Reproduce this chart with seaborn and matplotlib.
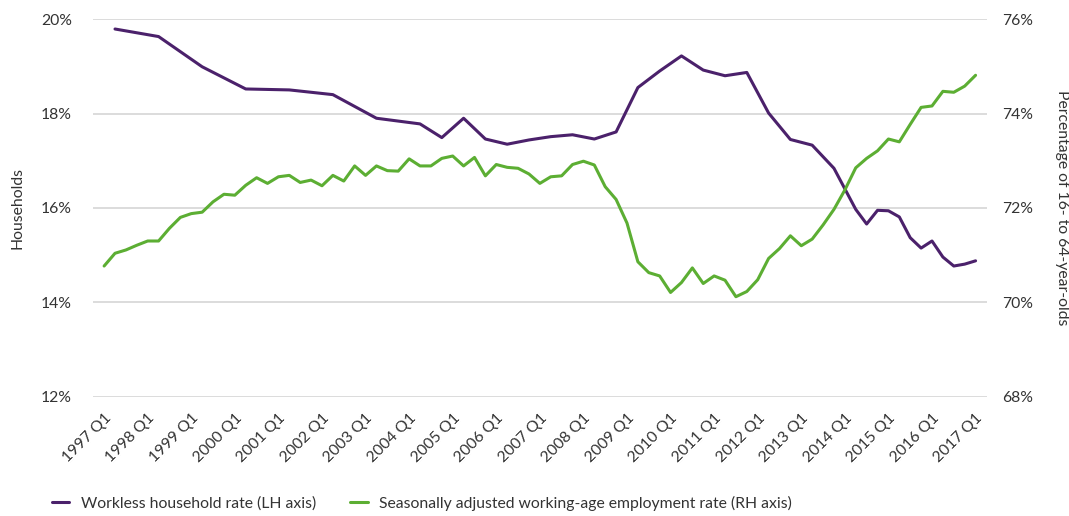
import matplotlib
matplotlib.use("Agg")
import matplotlib.pyplot as plt
import seaborn as sns
import pandas as pd
from matplotlib.ticker import FuncFormatter

# quarters 1997 Q1 .. 2017 Q1
quarters = [f"{1997 + i // 4} Q{i % 4 + 1}" for i in range(81)]
tick_labels = [f"{y} Q1" for y in range(1997, 2018)]

# workless household rate (LH axis), annual -> half-yearly -> quarterly
workless_quarters = [
    "1997 Q2", "1998 Q2", "1999 Q2", "2000 Q2", "2001 Q2", "2002 Q2", "2003 Q2",
    "2004 Q2", "2004 Q4", "2005 Q2", "2005 Q4", "2006 Q2", "2006 Q4", "2007 Q2",
    "2007 Q4", "2008 Q2", "2008 Q4", "2009 Q2", "2009 Q4", "2010 Q2", "2010 Q4",
    "2011 Q2", "2011 Q4", "2012 Q2", "2012 Q4", "2013 Q2", "2013 Q4", "2014 Q2",
    "2014 Q3", "2014 Q4", "2015 Q1", "2015 Q2", "2015 Q3", "2015 Q4", "2016 Q1",
    "2016 Q2", "2016 Q3", "2016 Q4", "2017 Q1",
]
workless_rate = [
    19.79, 19.63, 18.99, 18.52, 18.50, 18.40, 17.90,
    17.78, 17.49, 17.90, 17.46, 17.35, 17.44, 17.51,
    17.55, 17.46, 17.61, 18.55, 18.90, 19.22, 18.92,
    18.80, 18.87, 18.01, 17.45, 17.33, 16.84, 15.97,
    15.66, 15.95, 15.94, 15.81, 15.37, 15.15, 15.30,
    14.96, 14.77, 14.81, 14.88,
]

# seasonally adjusted working-age employment rate (RH axis), quarterly
employment_rate = [
    70.77, 71.04, 71.11, 71.21, 71.30, 71.30, 71.57, 71.80, 71.88, 71.91,
    72.13, 72.29, 72.27, 72.48, 72.64, 72.52, 72.66, 72.69, 72.54, 72.59,
    72.47, 72.69, 72.57, 72.89, 72.69, 72.89, 72.79, 72.78, 73.04, 72.89,
    72.89, 73.05, 73.10, 72.89, 73.07, 72.68, 72.92, 72.86, 72.84, 72.72,
    72.52, 72.66, 72.68, 72.92, 72.99, 72.91, 72.45, 72.18, 71.68, 70.86,
    70.63, 70.56, 70.21, 70.42, 70.73, 70.40, 70.56, 70.47, 70.12, 70.23,
    70.48, 70.93, 71.14, 71.41, 71.20, 71.34, 71.64, 71.97, 72.38, 72.85,
    73.05, 73.21, 73.46, 73.40, 73.77, 74.13, 74.16, 74.47, 74.45, 74.58,
    74.81,
]

purple = "#4b216b"
green = "#5cae33"
grid_col = "#d9d9d9"
text_col = "#333333"
fs = 11.3

df_w = pd.DataFrame({"pos": [quarters.index(q) for q in workless_quarters],
                     "rate": workless_rate})
df_e = pd.DataFrame({"pos": range(len(employment_rate)), "rate": employment_rate})

sns.set_style("white")
plt.rcParams["font.family"] = ["Lato", "DejaVu Sans"]
plt.rcParams["font.size"] = fs
plt.rcParams["text.color"] = text_col

fig = plt.figure(figsize=(10.69, 5.16), dpi=100)
ax = fig.add_axes([0.0867, 0.231, 0.8366, 0.732])
ax2 = ax.twinx()

sns.lineplot(data=df_w, x="pos", y="rate", ax=ax, color=purple, lw=2.2, legend=False)
sns.lineplot(data=df_e, x="pos", y="rate", ax=ax2, color=green, lw=2.2, legend=False)

ax.set_xlim(-1.05, 81.05)
ax.set_ylim(12, 20)
ax2.set_ylim(68, 76)
ax.set_yticks([12, 14, 16, 18, 20])
ax2.set_yticks([68, 70, 72, 74, 76])
pct = FuncFormatter(lambda v, p: f"{v:.0f}%")
ax.yaxis.set_major_formatter(pct)
ax2.yaxis.set_major_formatter(pct)

ax.set_xticks([quarters.index(t) for t in tick_labels])
ax.set_xticklabels(tick_labels, rotation=45, ha="right", rotation_mode="anchor")

ax.grid(axis="y", color=grid_col, lw=1.3)
ax.set_axisbelow(True)
for a in (ax, ax2):
    for s in a.spines.values():
        s.set_visible(False)
ax.tick_params(axis="x", length=8, width=1.2, color=grid_col, labelsize=fs,
               labelcolor=text_col, pad=2)
ax.tick_params(axis="y", length=0, labelsize=fs, labelcolor=text_col, pad=15)
ax2.tick_params(axis="y", length=0, labelsize=fs, labelcolor=text_col, pad=11)

ax.set_xlabel("")
ax.set_ylabel("Households", fontsize=fs, color=text_col, labelpad=12)
ax2.set_ylabel("Percentage of 16- to 64-year-olds", fontsize=fs, color=text_col,
               rotation=-90, labelpad=26)

handles = [ax.lines[0], ax2.lines[0]]
labels = ["Workless household rate (LH axis)",
          "Seasonally adjusted working-age employment rate (RH axis)"]
fig.legend(handles, labels, loc="center left", bbox_to_anchor=(0.035, 0.025),
           ncol=2, frameon=False, handlelength=1.1, handletextpad=0.75,
           columnspacing=2.2, fontsize=fs, labelcolor=text_col)

fig.savefig("out.png", dpi=100)
